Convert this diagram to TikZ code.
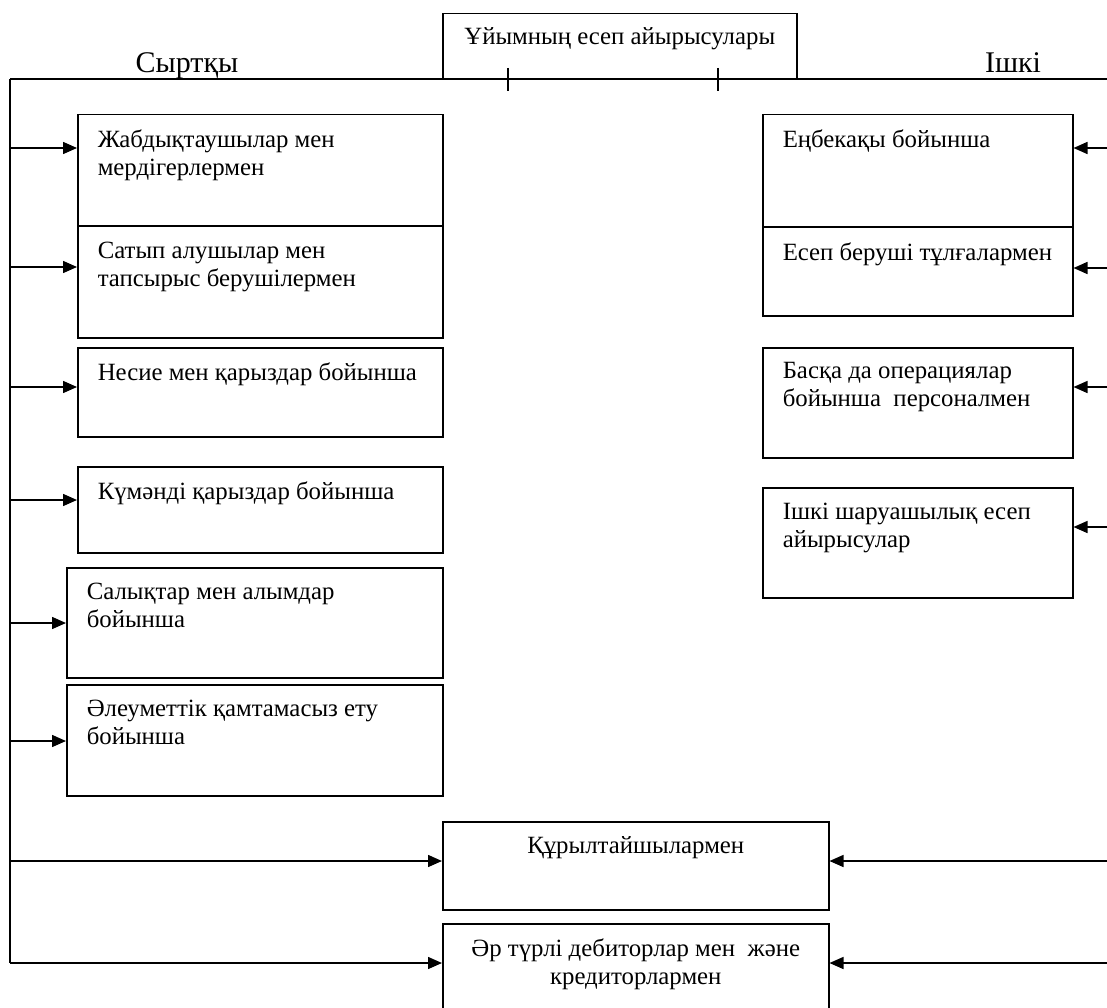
\documentclass[tikz,border=0pt]{standalone}
\usepackage{fontspec}
\setmainfont{Liberation Serif}
\usetikzlibrary{arrows.meta}
\begin{document}
\begin{tikzpicture}[x=1pt,y=-1pt,>={Triangle[length=14pt,width=12pt]},line width=1.5pt,
    box/.style={draw,line width=1.5pt,anchor=north west,inner sep=0pt},
    lbl/.style={anchor=north west,inner sep=0pt,align=left,font=\fontsize{24.8}{28}\selectfont},
    ctxt/.style={anchor=north,inner sep=0pt,align=center,font=\fontsize{24.8}{28}\selectfont},
    side/.style={anchor=base,inner sep=0pt,font=\fontsize{30}{34}\selectfont}]
    \useasboundingbox[fill=white] (0,0) rectangle (1107,1008);

    % title and the main line
    \node[box,minimum width=354,minimum height=66] (title) at (442,13) {};
    \node[ctxt] (title-t) at ([yshift=-14]title.north) {Ұйымның есеп айырысулары};
    \coordinate (ltop) at (10,79);
    \coordinate (rtop) at (1107,79);
    \draw (ltop) -- (rtop);
    \draw (508,68) -- (508,91);
    \draw (718,68) -- (718,91);
    \node[side] (ext) at (187,73) {Сыртқы};
    \node[side] (int) at (1013,73) {Ішкі};

    % left boxes
    \foreach \nm/\x/\y/\w/\h/\txt in {zhab/77/114/365/111/{Жабдықтаушылар мен\\мердігерлермен},
        satyp/77/226/365/111/{Сатып алушылар мен\\тапсырыс берушілермен},
        nesie/77/347/365/89/{Несие мен қарыздар бойынша},
        kumandi/77/466/365/86/{Күмәнді қарыздар бойынша},
        salyk/66/567/376/110/{Салықтар мен алымдар\\бойынша},
        aleum/66/684/376/111/{Әлеуметтік қамтамасыз ету\\бойынша}} {
      \node[box,minimum width=\w,minimum height=\h] (\nm) at (\x,\y) {};
      \node[lbl] (\nm-t) at ([shift={(20,15)}]\nm.north west) {\txt};
    }

    % right boxes
    \foreach \nm/\y/\h/\txt in {enbek/114/112/{Еңбекақы бойынша},
        esep/227/88/{Есеп беруші тұлғалармен},
        baska/347/110/{Басқа да операциялар\\бойынша~ персоналмен},
        ishki/487/110/{Ішкі шаруашылық есеп\\айырысулар}} {
      \node[box,minimum width=310,minimum height=\h] (\nm) at (762,\y) {};
      \node[lbl] (\nm-t) at ([shift={(20,15)}]\nm.north west) {\txt};
    }

    % bottom boxes
    \node[box,minimum width=386,minimum height=88] (quryl) at (442,821) {};
    \node[ctxt] (quryl-t) at ([yshift=-15]quryl.north) {Құрылтайшылармен};
    \node[box,minimum width=386,minimum height=110] (ar) at (442,923) {};
    \node[ctxt] (ar-t) at ([yshift=-15]ar.north) {Әр түрлі дебиторлар мен~ және\\кредиторлармен};

    % left side arrows
    \coordinate (lbot) at (10,963);
    \draw (ltop) -- (lbot);
    \foreach \nm/\y in {zhab/148,satyp/267,nesie/387,kumandi/500,salyk/623,aleum/741,quryl/861,ar/963} {
      \coordinate (l-\nm) at (10,\y);
      \draw[->] (l-\nm) -- (l-\nm -| \nm.west);
    }

    % right side arrows
    \foreach \nm/\y in {enbek/148,esep/268,baska/387,ishki/527,quryl/861,ar/963} {
      \coordinate (r-\nm) at (1107,\y);
      \draw[->] (r-\nm) -- (r-\nm -| \nm.east);
    }
\end{tikzpicture}
\end{document}
